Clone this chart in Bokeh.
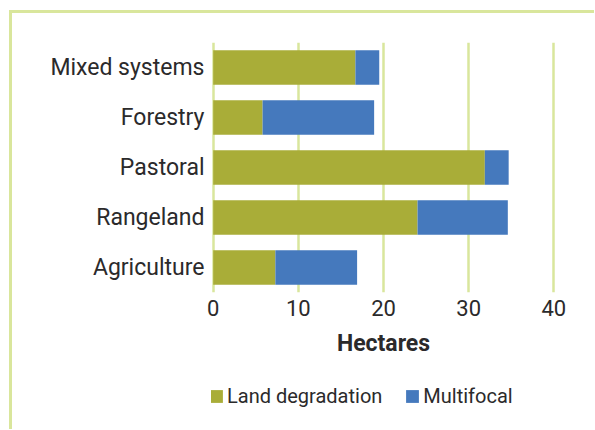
from bokeh.plotting import figure
from bokeh.layouts import column
from bokeh.models import Range1d, FactorRange, Legend, LegendItem, FixedTicker, ColumnDataSource
from bokeh.embed import file_html
from bokeh.resources import INLINE

categories = ["Agriculture", "Rangeland", "Pastoral", "Forestry", "Mixed systems"]
land_degradation = [7.3, 24.0, 31.9, 5.8, 16.7]
multifocal = [9.6, 10.6, 2.8, 13.1, 2.8]
x_ticks = [0, 10, 20, 30, 40]
series_names = ["Land degradation", "Multifocal"]
series_colors = ["#a9ad38", "#4579bd"]
x_title = "Hectares"

FONT = "Roboto"
TEXT = "#2b2a2b"
GRID = "#d9e69c"

source = ColumnDataSource(dict(cat=categories, ld=land_degradation, mf=multifocal))

p = figure(width=582, height=369, output_backend="svg", toolbar_location=None,
           y_range=FactorRange(*categories), x_range=Range1d(-0.2, 40.2),
           frame_width=344, frame_height=250,
           min_border_left=199, min_border_right=39, min_border_top=29, min_border_bottom=90)
p.outline_line_color = None

rs = p.hbar_stack(["ld", "mf"], y="cat", height=0.69, color=series_colors,
                  line_color=None, source=source)

p.xaxis.ticker = FixedTicker(ticks=x_ticks)
p.xgrid.ticker = FixedTicker(ticks=x_ticks)
p.xgrid.grid_line_color = GRID
p.xgrid.grid_line_width = 2.5
p.ygrid.grid_line_color = None

for ax in (p.xaxis[0], p.yaxis[0]):
    ax.axis_line_color = None
    ax.major_tick_line_color = None
    ax.minor_tick_line_color = None
    ax.major_tick_out = 0
    ax.major_tick_in = 0
    ax.major_label_text_font = FONT
    ax.major_label_text_font_size = "22px"
    ax.major_label_text_color = TEXT

p.yaxis.major_label_text_font_size = "23px"
p.yaxis.major_label_standoff = 7
p.xaxis.major_label_standoff = 7
p.xaxis.axis_label = x_title
p.xaxis.axis_label_text_font = FONT
p.xaxis.axis_label_text_font_style = "bold"
p.xaxis.axis_label_text_font_size = "23px"
p.xaxis.axis_label_text_color = TEXT
p.xaxis.axis_label_standoff = 11

# legend strip below the chart (legend-only renderers of zero size)
p2 = figure(width=582, height=47, output_backend="svg", toolbar_location=None,
            x_range=Range1d(0, 1), y_range=Range1d(0, 1),
            x_axis_location=None, y_axis_location=None,
            min_border=0, min_border_left=0, min_border_right=0,
            min_border_top=0, min_border_bottom=0)
p2.outline_line_color = None
p2.grid.grid_line_color = None
legend_src = ColumnDataSource(dict(y=[0], right=[0]))
lr = [p2.hbar(y="y", right="right", height=0, color=c, line_color=None, source=legend_src)
      for c in series_colors]

legend = Legend(items=[LegendItem(label=n, renderers=[r]) for n, r in zip(series_names, lr)],
                orientation="horizontal", location=(-3, 21), margin=0, padding=0,
                glyph_width=16, glyph_height=16, label_standoff=3, spacing=22,
                label_text_font=FONT, label_text_font_size="20px", label_text_color=TEXT,
                border_line_color=None, background_fill_alpha=0, label_height=16)
p2.add_layout(legend, "center")

layout = column(p, p2, spacing=0,
                styles={"border-top": "3px solid " + GRID, "border-left": "3px solid " + GRID,
                        "margin-top": "10px", "margin-left": "9px"})

open("out.html", "w").write(file_html(layout, INLINE))
